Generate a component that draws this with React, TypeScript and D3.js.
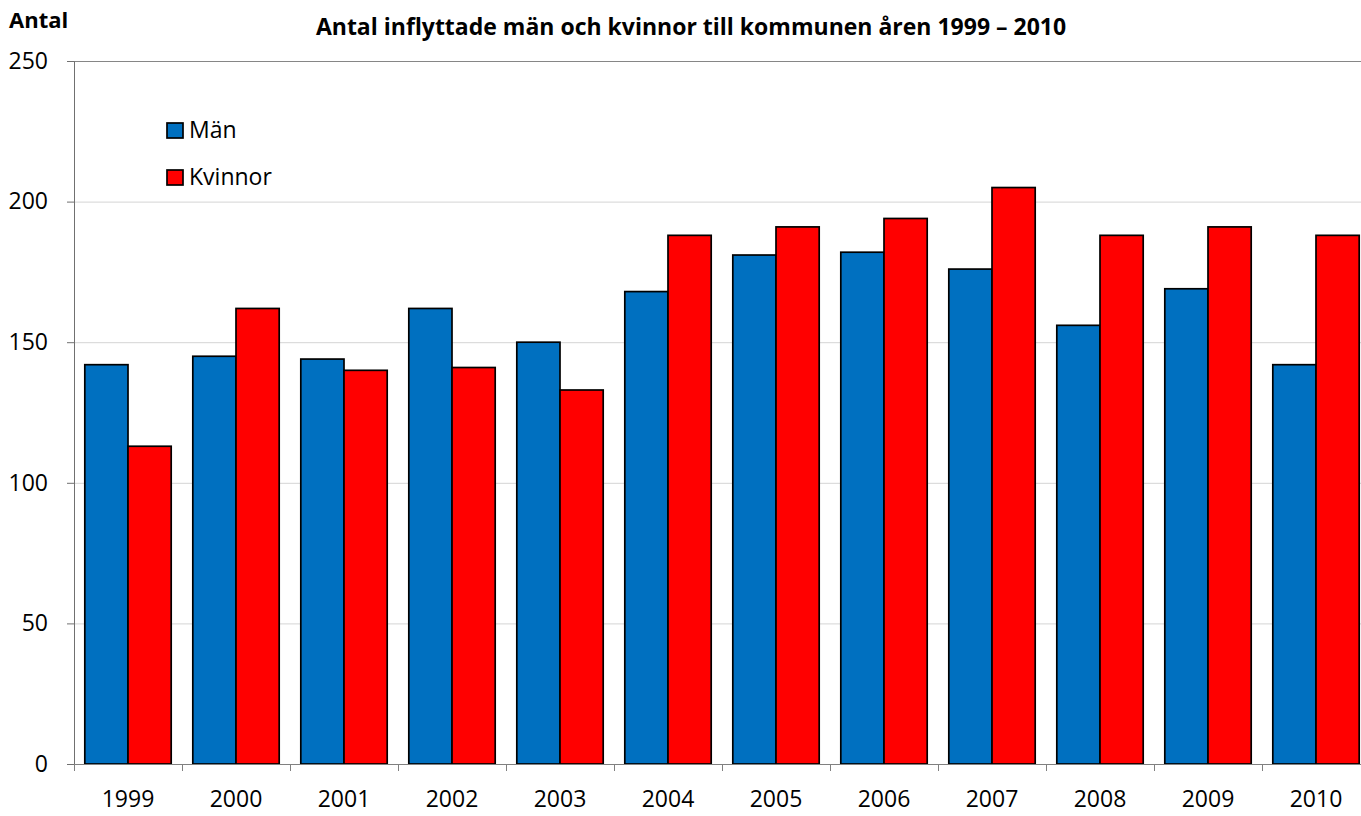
import React, { useEffect, useRef } from "react";
import * as d3 from "d3";

const years = ["1999", "2000", "2001", "2002", "2003", "2004", "2005", "2006", "2007", "2008", "2009", "2010"];
const man = [142, 145, 144, 162, 150, 168, 181, 182, 176, 156, 169, 142];
const kvinnor = [113, 162, 140, 141, 133, 188, 191, 194, 205, 188, 191, 188];
const yTicks = [0, 50, 100, 150, 200, 250];
const seriesNames = ["Män", "Kvinnor"];
const colors = ["#0070C0", "#FF0000"];

export default function App() {
  const ref = useRef<SVGSVGElement>(null);

  useEffect(() => {
    const width = 1361;
    const height = 816;
    const font = "Open Sans, Noto Sans, sans-serif";
    const svg = d3.select(ref.current).attr("width", width).attr("height", height);
    svg.selectAll("*").remove();

    const left = 74, right = 1370, top = 61, bottom = 764;

    const x0 = d3.scaleBand().domain(years).range([left, right]).paddingInner(0.2).paddingOuter(0.1);
    const x1 = d3.scaleBand().domain(seriesNames).range([0, x0.bandwidth()]);
    const y = d3.scaleLinear().domain([0, 250]).range([bottom, top]);

    // grid
    svg
      .append("g")
      .selectAll("line")
      .data(yTicks.filter((t) => t > 0))
      .join("line")
      .attr("x1", left)
      .attr("x2", right)
      .attr("y1", (d) => y(d) + 0.5)
      .attr("y2", (d) => y(d) + 0.5)
      .attr("stroke", (d) => (d === 250 ? "#868686" : "#d4d4d4"))
      .attr("stroke-width", 1);

    // bars
    const rows = years.map((yr, i) => ({ yr, vals: [man[i], kvinnor[i]] }));
    const groups = svg
      .append("g")
      .selectAll("g")
      .data(rows)
      .join("g")
      .attr("transform", (d) => `translate(${x0(d.yr)},0)`);
    groups
      .selectAll("rect")
      .data((d) => d.vals.map((v, j) => ({ v, s: seriesNames[j], c: colors[j] })))
      .join("rect")
      .attr("x", (d) => x1(d.s)!)
      .attr("y", (d) => y(d.v))
      .attr("width", x1.bandwidth())
      .attr("height", (d) => bottom - y(d.v))
      .attr("fill", (d) => d.c)
      .attr("stroke", "#000")
      .attr("stroke-width", 1.7);

    // axes
    const yAxis = svg
      .append("g")
      .attr("transform", `translate(${left},0)`)
      .call(d3.axisLeft(y).tickValues(yTicks).tickSize(7).tickPadding(19).tickFormat(d3.format("d")));
    yAxis.selectAll("path,line").attr("stroke", "#707070");
    yAxis.selectAll("text").attr("font-size", 23).attr("font-family", font).attr("fill", "#000");

    const xAxis = svg
      .append("g")
      .attr("transform", `translate(0,${bottom})`)
      .call(d3.axisBottom(x0).tickSize(0).tickPadding(27));
    xAxis.selectAll("path").attr("stroke", "#808080");
    xAxis.selectAll("text").attr("font-size", 23).attr("font-family", font).attr("fill", "#000");
    svg
      .append("g")
      .selectAll("line")
      .data(d3.range(years.length + 1))
      .join("line")
      .attr("x1", (i) => left + i * x0.step() + 0.5)
      .attr("x2", (i) => left + i * x0.step() + 0.5)
      .attr("y1", bottom)
      .attr("y2", bottom + 7)
      .attr("stroke", "#808080");

    // legend
    const leg = svg.append("g").attr("transform", "translate(167,123)");
    seriesNames.forEach((s, i) => {
      leg
        .append("rect")
        .attr("x", 0)
        .attr("y", i * 47)
        .attr("width", 16)
        .attr("height", 15)
        .attr("fill", colors[i])
        .attr("stroke", "#000")
        .attr("stroke-width", 1.7);
      leg
        .append("text")
        .attr("x", 22)
        .attr("y", i * 47 + 15)
        .attr("font-size", 23)
        .attr("font-family", font)
        .text(s);
    });

    // titles
    svg
      .append("text")
      .attr("x", 9)
      .attr("y", 28)
      .attr("font-size", 22)
      .attr("font-weight", 700)
      .attr("font-family", font)
      .text("Antal");
    svg
      .append("text")
      .attr("x", 691)
      .attr("y", 35)
      .attr("text-anchor", "middle")
      .attr("font-size", 23)
      .attr("font-weight", 700)
      .attr("font-family", font)
      .text("Antal inflyttade män och kvinnor till kommunen åren 1999 – 2010");
  }, []);

  return <svg ref={ref} style={{ position: "absolute", left: 0, top: 0 }} />;
}
